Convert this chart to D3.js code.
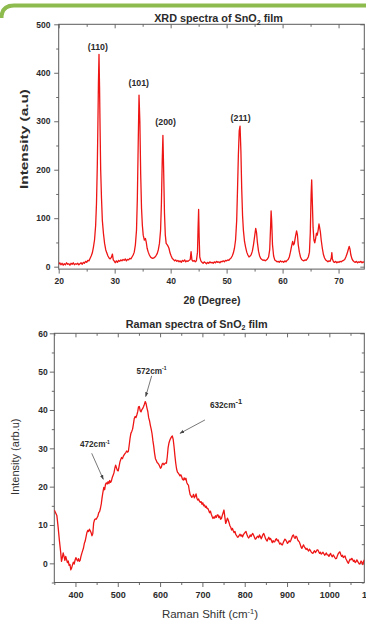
<!DOCTYPE html>
<html><head><meta charset="utf-8">
<script src="https://cdn.jsdelivr.net/npm/d3@7/dist/d3.min.js"></script>
<style>
html,body{margin:0;padding:0;background:#fff;}
svg{display:block;font-family:"Liberation Sans",Arial,Helvetica,sans-serif;}
</style></head>
<body><svg id="c" width="366" height="621"></svg>
<script>
// ---------------- DATA ----------------
const xrdTitle = "XRD spectra of SnO";
const ramanTitle = "Raman spectra of SnO";
const xrdXTicks = [20, 30, 40, 50, 60, 70];
const xrdYTicks = [0, 100, 200, 300, 400, 500];
const ramanXTicks = [400, 500, 600, 700, 800, 900, 1000, 1100];
const ramanYTicks = [0, 10, 20, 30, 40, 50, 60];
const xrdPeakLabels = ["(110)", "(101)", "(200)", "(211)"];
const xrdPeakLabelTheta = [27.0, 34.3, 39.1, 52.5];
const xrdPeakLabelI = [446, 373, 292, 300];
const ramanNotes = ["472", "572", "632"];
const ramanNoteText = [[446, 30.3], [579.6, 49.5], [717.8, 40.6]];
const ramanNoteFrom = [[438.4, 28.7], [580.1, 48.9], [706, 37.4]];
const ramanNoteTo = [[465.8, 21.9], [566, 43.5], [647, 33.9]];

// XRD: [2theta, intensity]
const xrdPoints = [
[20.0,5],[20.2,8],[20.4,4],[20.6,7],[20.8,3],[21.0,6],[21.2,4],[21.4,8],[21.6,5],[21.8,6],
[22.0,3],[22.2,7],[22.4,5],[22.6,8],[22.8,4],[23.0,6],[23.2,5],[23.4,7],[23.6,4],[23.8,6],
[24.0,8],[24.2,5],[24.4,9],[24.6,7],[24.8,11],[25.0,9],[25.2,13],[25.4,12],[25.6,17],[25.8,22],
[26.0,28],[26.2,40],[26.4,55],[26.6,85],[26.75,130],[26.9,210],[27.0,290],[27.1,380],[27.2,438],[27.3,370],
[27.4,280],[27.5,200],[27.65,140],[27.8,95],[28.0,68],[28.2,48],[28.4,35],[28.6,28],[28.8,22],[29.0,18],
[29.2,16],[29.4,19],[29.6,26],[29.75,14],[29.9,12],[30.1,8],[30.3,12],[30.5,9],[30.7,13],[30.9,11],
[31.1,14],[31.3,12],[31.5,15],[31.7,13],[31.9,16],[32.1,12],[32.3,15],[32.5,14],[32.7,17],[32.9,16],
[33.1,20],[33.3,24],[33.5,30],[33.7,45],[33.9,75],[34.05,140],[34.2,250],[34.35,354],[34.5,300],[34.65,190],
[34.8,120],[34.95,85],[35.1,65],[35.3,55],[35.5,58],[35.65,50],[35.8,38],[36.0,30],[36.2,24],[36.4,20],
[36.6,18],[36.8,17],[37.0,18],[37.2,20],[37.4,23],[37.6,27],[37.8,35],[38.0,48],[38.2,75],[38.35,130],
[38.5,220],[38.62,271],[38.75,200],[38.9,110],[39.05,65],[39.2,48],[39.4,45],[39.55,42],[39.7,38],[39.9,28],
[40.1,22],[40.3,17],[40.5,15],[40.7,12],[40.9,14],[41.1,11],[41.3,13],[41.5,10],[41.7,12],[41.9,9],
[42.1,13],[42.3,11],[42.5,14],[42.7,10],[42.9,12],[43.1,11],[43.3,13],[43.5,15],[43.65,31],[43.8,14],
[44.0,11],[44.2,13],[44.4,10],[44.6,12],[44.8,30],[44.9,80],[45.0,118],[45.1,60],[45.2,20],[45.4,12],
[45.6,9],[45.8,7],[46.0,10],[46.2,8],[46.4,6],[46.6,9],[46.8,7],[47.0,10],[47.2,8],[47.4,9],
[47.6,7],[47.8,10],[48.0,8],[48.2,11],[48.4,9],[48.6,10],[48.8,8],[49.0,11],[49.2,10],[49.4,12],
[49.6,10],[49.8,13],[50.0,12],[50.2,14],[50.4,13],[50.6,16],[50.8,18],[51.0,22],[51.2,28],[51.4,38],
[51.6,55],[51.8,95],[51.95,160],[52.1,230],[52.25,280],[52.4,290],[52.55,240],[52.7,160],[52.85,105],[53.0,75],
[53.2,52],[53.4,40],[53.6,30],[53.8,24],[54.0,20],[54.2,22],[54.4,25],[54.6,32],[54.8,45],[55.0,62],
[55.2,79],[55.35,70],[55.5,50],[55.7,32],[55.9,22],[56.1,17],[56.3,15],[56.5,13],[56.7,14],[56.9,12],
[57.1,14],[57.3,16],[57.5,20],[57.7,35],[57.85,80],[57.95,115],[58.05,95],[58.2,45],[58.4,22],[58.6,14],
[58.8,12],[59.0,10],[59.2,11],[59.4,9],[59.6,12],[59.8,10],[60.0,11],[60.2,9],[60.4,12],[60.6,10],
[60.8,13],[61.0,15],[61.2,20],[61.4,30],[61.6,42],[61.8,52],[61.95,45],[62.1,48],[62.3,62],[62.5,74],
[62.65,66],[62.8,45],[63.0,30],[63.2,20],[63.4,15],[63.6,13],[63.8,12],[64.0,14],[64.2,13],[64.4,16],
[64.6,20],[64.8,30],[64.95,70],[65.1,150],[65.2,179],[65.3,140],[65.45,80],[65.6,55],[65.75,49],[65.9,58],
[66.05,69],[66.2,65],[66.35,75],[66.5,88],[66.6,82],[66.75,72],[66.9,55],[67.1,38],[67.3,25],[67.5,18],
[67.7,14],[67.9,12],[68.1,10],[68.3,12],[68.5,11],[68.7,18],[68.8,29],[68.9,16],[69.1,10],[69.3,9],
[69.5,11],[69.7,8],[69.9,10],[70.1,9],[70.3,11],[70.5,10],[70.7,12],[70.9,13],[71.1,15],[71.3,20],
[71.5,26],[71.7,34],[71.9,42],[72.05,36],[72.2,24],[72.4,16],[72.6,12],[72.8,10],[73.0,9],[73.2,11],
[73.4,8],[73.6,10],[73.8,9],[74.0,11],[74.2,8],[74.4,10],[74.6,9]
];

// Raman: [shift cm-1, intensity]
const ramanPoints = [
[350,13.9],[353,13.2],[356,12.5],[359,9.5],[362,6],[365,3],[367,0.5],[369,1.5],[371,2.7],[373,1.8],
[375,0.8],[377,1.8],[379,1.0],[381,0.2],[383,0.6],[385,-0.5],[387,-0.3],[389,-1.7],[391,-1.2],[393,-0.4],
[395,0.3],[397,-0.2],[399,0.8],[401,1.5],[403,1.0],[405,0.6],[407,1.2],[409,0.5],[411,0.8],[413,1.8],
[415,2.6],[417,3.3],[419,4.0],[421,5.2],[423,5.8],[425,6.9],[427,8.0],[429,8.6],[431,8.3],[433,8.9],
[435,8.5],[437,8.0],[439,7.2],[441,7.8],[443,10.5],[445,11.3],[447,11.6],[449,11.5],[451,11.9],[453,12.3],
[455,13.2],[457,13.5],[459,14.3],[461,15.5],[463,17.2],[465,18.6],[467,19.8],[469,19.2],[471,20.6],[473,21.0],
[475,20.7],[477,21.3],[479,20.8],[481,21.6],[483,21.1],[485,21.5],[487,22.4],[489,23.0],[491,23.6],[493,24.8],
[495,25.6],[497,24.9],[499,24.3],[501,24.1],[503,25.2],[505,26.4],[507,27.1],[509,27.6],[511,27.3],[513,27.9],
[515,28.3],[517,28.6],[519,28.9],[521,29.3],[523,29.0],[525,29.2],[527,30.8],[529,32.6],[531,33.9],[533,34.4],
[535,35.0],[537,36.3],[539,37.8],[541,38.3],[543,38.0],[545,38.7],[547,39.5],[549,40.8],[551,40.9],[553,39.8],
[555,39.5],[557,40.1],[559,40.4],[561,40.9],[563,41.5],[565,42.2],[567,41.6],[569,40.5],[571,39.6],[573,38.0],
[575,37.2],[577,36.0],[579,35.0],[581,33.8],[583,32.0],[585,30.5],[587,28.7],[589,27.3],[591,26.8],[593,26.3],
[595,26.1],[597,25.8],[599,25.3],[601,24.8],[603,25.1],[605,25.9],[607,26.1],[609,25.7],[611,26.0],[613,26.2],
[615,26.1],[617,27.8],[619,30.2],[621,31.4],[623,32.1],[625,32.6],[627,33.0],[629,33.2],[631,32.3],[633,30.4],
[635,28.1],[637,26.1],[639,24.6],[641,23.8],[643,23.5],[645,23.2],[647,22.8],[649,23.1],[651,22.6],[653,21.9],
[655,21.7],[657,22.3],[659,21.8],[661,22.2],[663,21.1],[665,20.6],[667,20.4],[669,19.0],[671,17.9],[673,17.6],
[675,17.2],[677,17.4],[679,18.0],[681,17.1],[683,17.5],[685,18.1],[687,17.0],[689,16.5],[691,16.8],[693,16.2],
[695,15.9],[697,16.1],[699,15.4],[701,15.8],[703,15.0],[705,15.2],[707,14.6],[709,14.9],[711,14.3],[713,14.3],
[715,13.8],[717,13.2],[719,13.6],[721,12.8],[723,12.2],[725,11.7],[727,12.1],[729,11.8],[731,12.4],[733,12.0],
[735,12.6],[737,12.6],[739,11.9],[741,12.3],[743,11.5],[745,11.7],[747,12.5],[749,13.2],[751,13.9],[753,12.1],
[755,10.4],[757,11.0],[759,11.8],[761,11.3],[763,10.6],[765,9.8],[767,9.4],[769,8.7],[771,9.1],[773,8.5],
[775,8.0],[777,8.3],[779,7.5],[781,7.2],[783,6.8],[785,6.9],[787,7.3],[789,7.6],[791,7.1],[793,7.4],
[795,6.9],[797,7.5],[799,7.8],[801,8.1],[803,8.3],[805,7.6],[807,7.0],[809,6.6],[811,6.9],[813,7.4],
[815,7.0],[817,7.5],[819,7.8],[821,7.3],[823,6.8],[825,6.3],[827,6.5],[829,6.9],[831,7.1],[833,6.7],
[835,7.4],[837,7.0],[839,6.4],[841,6.9],[843,7.5],[845,7.8],[847,7.2],[849,6.5],[851,6.1],[853,5.8],
[855,6.4],[857,6.8],[859,6.2],[861,6.5],[863,6.0],[865,5.4],[867,5.9],[869,5.6],[871,5.6],[873,6.2],
[875,6.4],[877,5.9],[879,6.1],[881,5.5],[883,5.0],[885,5.3],[887,4.9],[889,4.8],[891,5.4],[893,5.9],
[895,6.3],[897,6.1],[899,5.7],[901,5.2],[903,5.5],[905,5.9],[907,5.6],[909,6.0],[911,6.6],[913,7.2],
[915,7.4],[917,6.8],[919,6.5],[921,7.1],[923,6.9],[925,6.2],[927,5.8],[929,5.6],[931,5.0],[933,4.3],
[935,3.9],[937,4.4],[939,4.8],[941,4.3],[943,4.0],[945,3.6],[947,3.9],[949,3.5],[951,3.2],[953,3.7],
[955,3.4],[957,3.0],[959,2.7],[961,2.6],[963,3.0],[965,3.3],[967,2.8],[969,3.1],[971,3.5],[973,3.5],
[975,3.0],[977,2.6],[979,2.9],[981,2.4],[983,2.6],[985,2.9],[987,2.5],[989,2.1],[991,2.4],[993,2.7],
[995,2.2],[997,2.2],[999,1.8],[1001,2.3],[1003,2.6],[1005,2.0],[1007,1.7],[1009,2.2],[1011,1.9],[1013,1.5],
[1015,1.2],[1017,1.3],[1019,2.0],[1021,2.5],[1023,2.8],[1025,3.0],[1027,2.3],[1029,1.8],[1031,2.1],[1033,1.5],
[1035,1.7],[1037,1.9],[1039,1.2],[1041,0.8],[1043,0.3],[1045,0.0],[1047,0.6],[1049,1.1],[1051,0.9],[1053,1.3],
[1055,1.0],[1057,0.5],[1059,0.8],[1061,0.2],[1063,0.4],[1065,0.9],[1067,0.5],[1069,0.1],[1071,-0.2],[1073,0.0],
[1075,0.6],[1077,0.3],[1079,-0.3],[1081,0.5],[1083,0.9]
];

// ---------------- DRAW ----------------
const svg = d3.select("#c");
const RED = "#ee1515", AX = "#5a5a5a", TXT = "#2b2b2b";

// green header strip
svg.append("path").attr("d", "M1.5,18 Q1.5,5.5 14,5.5 L366,5.5")
  .attr("fill", "none").attr("stroke", "#8dbb4e").attr("stroke-width", 4);

function styleAxis(g, fs, bold) {
  g.select(".domain").remove();
  g.selectAll(".tick line").attr("stroke", AX).attr("stroke-width", 0.9);
  g.selectAll(".tick text").attr("fill", TXT).attr("font-size", fs)
    .attr("font-weight", bold ? "bold" : "normal").attr("font-family", null);
}

function drawFrame(x, y, o) {
  const [x0, x1] = x.range(), [y0, y1] = y.range();
  const xMinor = o.xMinor, yMinor = o.yMinor;
  // bottom axis
  const gb = svg.append("g").attr("transform", `translate(0,${y0})`);
  gb.call(d3.axisBottom(x).tickValues(o.xTicks.filter(v => x(v) <= x1 + 0.5)).tickSize(4.5).tickPadding(o.xPad).tickFormat(d3.format("d")));
  styleAxis(gb, o.xFs, true);
  const gbm = svg.append("g").attr("transform", `translate(0,${y0})`);
  gbm.call(d3.axisBottom(x).tickValues(xMinor).tickSize(2.5).tickFormat(""));
  styleAxis(gbm, o.xFs, true);
  // left axis
  const gl = svg.append("g").attr("transform", `translate(${x0},0)`);
  gl.call(d3.axisLeft(y).tickValues(o.yTicks).tickSize(4.5).tickPadding(o.yPad).tickFormat(d3.format("d")));
  styleAxis(gl, o.yFs, true);
  const glm = svg.append("g").attr("transform", `translate(${x0},0)`);
  glm.call(d3.axisLeft(y).tickValues(yMinor).tickSize(2.5).tickFormat(""));
  styleAxis(glm, o.yFs, true);
  // top axis (inward ticks)
  const gt = svg.append("g").attr("transform", `translate(0,${y1})`);
  gt.call(d3.axisBottom(x).tickValues(o.xTicks.filter(v => x(v) <= x1 + 0.5)).tickSize(4).tickFormat(""));
  styleAxis(gt, 8, true);
  const gtm = svg.append("g").attr("transform", `translate(0,${y1})`);
  gtm.call(d3.axisBottom(x).tickValues(xMinor).tickSize(2.5).tickFormat(""));
  styleAxis(gtm, 8, true);
  // right axis (inward ticks)
  const gr = svg.append("g").attr("transform", `translate(${x1},0)`);
  gr.call(d3.axisLeft(y).tickValues(o.yTicks).tickSize(4).tickFormat(""));
  styleAxis(gr, 8, true);
  const grm = svg.append("g").attr("transform", `translate(${x1},0)`);
  grm.call(d3.axisLeft(y).tickValues(yMinor).tickSize(2.5).tickFormat(""));
  styleAxis(grm, 8, true);
  // frame
  svg.append("rect").attr("x", x0).attr("y", y1).attr("width", x1 - x0).attr("height", y0 - y1)
    .attr("fill", "none").attr("stroke", AX).attr("stroke-width", 1);
}

function drawTitle(text, cx, by) {
  const t = svg.append("text").attr("x", cx).attr("y", by).attr("text-anchor", "middle")
    .attr("font-size", 10.8).attr("font-weight", "bold").attr("fill", TXT);
  t.append("tspan").text(text);
  t.append("tspan").attr("font-size", 7).attr("dy", 2.5).text("2");
  t.append("tspan").attr("dy", -2.5).text(" film");
}

// ===== XRD chart =====
const xX = d3.scaleLinear().domain([20, 74.6]).range([58.7, 364.3]);
const yX = d3.scaleLinear().domain([-5, 500]).range([269.1, 24.3]);
drawFrame(xX, yX, {
  xTicks: xrdXTicks, yTicks: xrdYTicks,
  xMinor: [25, 35, 45, 55, 65], yMinor: [50, 150, 250, 350, 450],
  xPad: 4.5, yPad: 3.8, xFs: 8.5, yFs: 8.5
});
const clipX = svg.append("clipPath").attr("id", "clipX").append("rect")
  .attr("x", 58.7).attr("y", 24.3).attr("width", 364.3 - 58.7).attr("height", 269.1 - 24.3);
svg.append("path").datum(xrdPoints)
  .attr("clip-path", "url(#clipX)")
  .attr("fill", "none").attr("stroke", RED).attr("stroke-width", 1.3).attr("stroke-linejoin", "round")
  .attr("d", d3.line().x(d => xX(d[0])).y(d => yX(d[1])));
drawTitle(xrdTitle, 218.5, 22.3);
svg.append("text").attr("x", 212).attr("y", 303.5).attr("text-anchor", "middle")
  .attr("font-size", 10.5).attr("font-weight", "bold").attr("fill", TXT)
  .text("2θ (Degree)");
svg.append("text").attr("transform", "translate(28,139) rotate(-90)").attr("text-anchor", "middle")
  .attr("font-size", 10.5).attr("font-weight", "bold").attr("fill", TXT)
  .attr("textLength", 100).attr("lengthAdjust", "spacingAndGlyphs")
  .text("Intensity (a.u)");
svg.append("g").selectAll("text").data(xrdPeakLabels).join("text")
  .attr("x", (d, i) => xX(xrdPeakLabelTheta[i])).attr("y", (d, i) => yX(xrdPeakLabelI[i]))
  .attr("text-anchor", "middle").attr("font-size", 8.8).attr("font-weight", "bold").attr("fill", TXT)
  .text(d => d);

// ===== Raman chart =====
const xR = d3.scaleLinear().domain([350, 1082.6]).range([54.3, 364.3]);
const yR = d3.scaleLinear().domain([-5, 60]).range([582.5, 333.3]);
drawFrame(xR, yR, {
  xTicks: ramanXTicks, yTicks: ramanYTicks,
  xMinor: [350, 450, 550, 650, 750, 850, 950, 1050], yMinor: [-5, 5, 15, 25, 35, 45, 55],
  xPad: 4.2, yPad: 2, xFs: 9, yFs: 8.5
});
// "1100" label (lies just past the visible frame edge)
svg.append("text").attr("x", xR(1100)).attr("y", yR(-5) + 4.5 + 4.2).attr("dy", "0.71em")
  .attr("text-anchor", "middle").attr("font-size", 9).attr("font-weight", "bold").attr("fill", TXT)
  .text(d3.format("d")(ramanXTicks[ramanXTicks.length - 1]));
svg.append("clipPath").attr("id", "clipR").append("rect")
  .attr("x", 54.3).attr("y", 333.3).attr("width", 364.3 - 54.3).attr("height", 582.5 - 333.3);
svg.append("path").datum(ramanPoints)
  .attr("clip-path", "url(#clipR)")
  .attr("fill", "none").attr("stroke", RED).attr("stroke-width", 1.3).attr("stroke-linejoin", "round")
  .attr("d", d3.line().x(d => xR(d[0])).y(d => yR(d[1])));
drawTitle(ramanTitle, 196.7, 327.5);
const xl = svg.append("text").attr("x", 210).attr("y", 618).attr("text-anchor", "middle")
  .attr("font-size", 11.5).attr("fill", "#333");
xl.append("tspan").text("Raman Shift (cm");
xl.append("tspan").attr("font-size", 7.5).attr("dy", -4).text("-1");
xl.append("tspan").attr("dy", 4).text(")");
svg.append("text").attr("transform", "translate(18.5,456.7) rotate(-90)").attr("text-anchor", "middle")
  .attr("font-size", 11).attr("fill", "#333")
  .text("Intensity (arb.u)");

// annotations
const defs = svg.append("defs");
defs.append("marker").attr("id", "ah").attr("viewBox", "0 0 10 10").attr("refX", 9).attr("refY", 5)
  .attr("markerWidth", 6).attr("markerHeight", 6).attr("orient", "auto")
  .append("path").attr("d", "M0,1.5 L10,5 L0,8.5 Z").attr("fill", "#444");
ramanNotes.forEach((n, i) => {
  svg.append("line")
    .attr("x1", xR(ramanNoteFrom[i][0])).attr("y1", yR(ramanNoteFrom[i][1]))
    .attr("x2", xR(ramanNoteTo[i][0])).attr("y2", yR(ramanNoteTo[i][1]))
    .attr("stroke", "#555").attr("stroke-width", 0.8).attr("marker-end", "url(#ah)");
  const big = n === "632";
  const t = svg.append("text").attr("x", xR(ramanNoteText[i][0])).attr("y", yR(ramanNoteText[i][1]))
    .attr("text-anchor", big ? "start" : "middle").attr("font-size", 8.2).attr("font-weight", "bold").attr("fill", TXT);
  t.append("tspan").text(n + "cm");
  t.append("tspan").attr("font-size", big ? 7.5 : 5).attr("dy", -3.5).text("-1");
});
</script></body></html>
